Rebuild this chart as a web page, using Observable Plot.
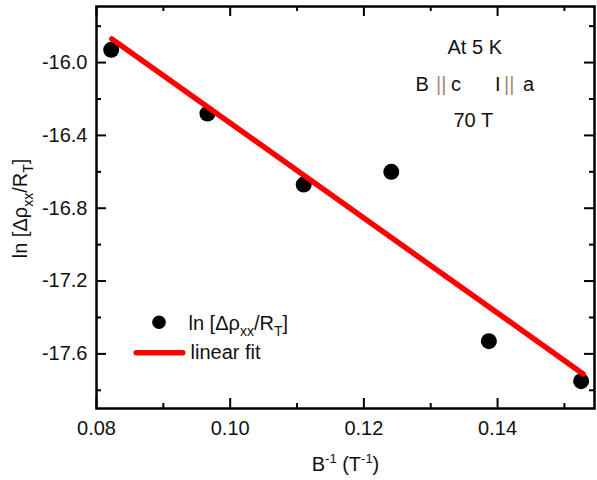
<!DOCTYPE html>
<html>
<head>
<meta charset="utf-8">
<script src="https://cdn.jsdelivr.net/npm/d3@7"></script>
<script src="https://cdn.jsdelivr.net/npm/@observablehq/plot@0.6"></script>
<style>
  html, body { margin: 0; padding: 0; background: #fff; }
  #chart svg { display: block; }
</style>
</head>
<body>
<div id="chart"></div>
<script>
// Measured data: ln[Δρxx/RT] versus inverse field B^-1
const invB     = [0.0822, 0.0966, 0.1110, 0.1241, 0.1387, 0.1525];
const lnRatio  = [-15.93, -16.28, -16.67, -16.60, -17.53, -17.75];

// Linear fit end points
const fitInvB  = [0.0823, 0.1528];
const fitLn    = [-15.87, -17.71];

// Tick values
const xMajor = [0.08, 0.10, 0.12, 0.14];
const xMinor = [0.09, 0.11, 0.13, 0.15];
const yMajor = [-16.0, -16.4, -16.8, -17.2, -17.6];
const yMinor = [-15.8, -16.2, -16.6, -17.0, -17.4, -17.8];

// Texts
const xLabel = "B-1 (T-1)";
const yLabel = "ln [Δρxx/RT]";
const legendDots = "ln [Δρxx/RT]";
const legendFit = "linear fit";
const noteTemp = "At 5 K";
const noteField = "70 T";

const points = invB.map((x, i) => ({x, y: lnRatio[i]}));
const fit = fitInvB.map((x, i) => ({x, y: fitLn[i]}));

const W = 597, H = 480;
const mL = 96, mR = 3, mT = 6, mB = 72;
const innerW = W - mL - mR, innerH = H - mT - mB;
const major = 10, minor = 5;
const font = "'Liberation Sans', Arial, Helvetica, sans-serif";
const barColor = "#a08a7a";

const t = (text, dx, dy, opts = {}) =>
  Plot.text([text], {text: d => d, frameAnchor: "top-left", dx, dy, textAnchor: "start",
    lineAnchor: "bottom", fontSize: 20, fill: "#111", ...opts});

const chart = Plot.plot({
  width: W, height: H,
  marginLeft: mL, marginRight: mR, marginTop: mT, marginBottom: mB,
  style: {fontFamily: font, fontSize: "20px", background: "#fff", color: "#111"},
  x: {domain: [0.08, 0.1545]},
  y: {domain: [-17.9, -15.692]},
  marks: [
    // inward ticks on all four sides
    Plot.ruleX(xMajor, {x: d => d, insetTop: innerH - major, stroke: "#000", strokeWidth: 2}),
    Plot.ruleX(xMajor, {x: d => d, insetBottom: innerH - major, stroke: "#000", strokeWidth: 2}),
    Plot.ruleX(xMinor, {x: d => d, insetTop: innerH - minor, stroke: "#000", strokeWidth: 2}),
    Plot.ruleX(xMinor, {x: d => d, insetBottom: innerH - minor, stroke: "#000", strokeWidth: 2}),
    Plot.ruleY(yMajor, {y: d => d, insetRight: innerW - major, stroke: "#000", strokeWidth: 2}),
    Plot.ruleY(yMajor, {y: d => d, insetLeft: innerW - major, stroke: "#000", strokeWidth: 2}),
    Plot.ruleY(yMinor, {y: d => d, insetRight: innerW - minor, stroke: "#000", strokeWidth: 2}),
    Plot.ruleY(yMinor, {y: d => d, insetLeft: innerW - minor, stroke: "#000", strokeWidth: 2}),
    Plot.axisX({ticks: xMajor, tickSize: 0, tickPadding: 12, tickFormat: d => d.toFixed(2), label: null, fontSize: 20}),
    Plot.axisY({ticks: yMajor, tickSize: 0, tickPadding: 9, tickFormat: d => d.toFixed(1), label: null, fontSize: 20}),
    Plot.frame({stroke: "#000", strokeWidth: 2.5}),
    // data
    Plot.dot(points, {x: "x", y: "y", r: 8, fill: "#000", stroke: null}),
    Plot.line(fit, {x: "x", y: "y", stroke: "#ff0000", strokeWidth: 5.5, strokeLinecap: "round"}),
    // legend
    Plot.dot([0], {frameAnchor: "top-left", dx: 62.5, dy: 315.7, r: 6.8, fill: "#000", stroke: null}),
    t(legendDots, 92, 323.3),
    Plot.frame({fill: "#ff0000", stroke: null, rx: 2.7,
      insetLeft: 37, insetRight: innerW - 89, insetTop: 343.6, insetBottom: innerH - 349}),
    t(legendFit, 94, 352.3),
    // annotations
    t(noteTemp, 351, 47.3),
    t("B", 319, 84.7),
    t("||", 339.5, 84.7, {fill: barColor}),
    t("c", 354.5, 84.7),
    t("I", 398.5, 84.7),
    t("||", 407.5, 84.7, {fill: barColor}),
    t("a", 426.5, 84.7),
    t(noteField, 357, 120.7),
    // axis titles
    Plot.text([xLabel], {text: d => d, frameAnchor: "bottom", dy: 62, lineAnchor: "bottom",
      textAnchor: "middle", fontSize: 20, fill: "#111"}),
    Plot.text([yLabel], {text: d => d, frameAnchor: "left", dx: -75.5, dy: 1, rotate: -90,
      lineAnchor: "middle", textAnchor: "middle", fontSize: 20, fill: "#111"})
  ]
});

document.getElementById("chart").appendChild(chart);

// rich text: subscripts / superscripts
function rich(el, parts) {
  const sel = d3.select(el);
  sel.text(null);
  let shift = 0;
  for (const p of parts) {
    const ts = sel.append("tspan").text(p.t);
    let target = 0;
    if (p.sub) { ts.attr("font-size", "14px"); target = 6; }
    if (p.sup) { ts.attr("font-size", "13px"); target = -8; }
    const dy = target - shift;
    if (dy) ts.attr("dy", dy);
    shift = target;
  }
}
d3.select(chart).selectAll("text").each(function() {
  const s = this.textContent;
  if (s === "ln [Δρxx/RT]") {
    rich(this, [{t: "ln [Δρ"}, {t: "xx", sub: true}, {t: "/R"}, {t: "T", sub: true}, {t: "]"}]);
  } else if (s === "B-1 (T-1)") {
    rich(this, [{t: "B"}, {t: "-1", sup: true}, {t: " (T"}, {t: "-1", sup: true}, {t: ")"}]);
  }
});
</script>
</body>
</html>
